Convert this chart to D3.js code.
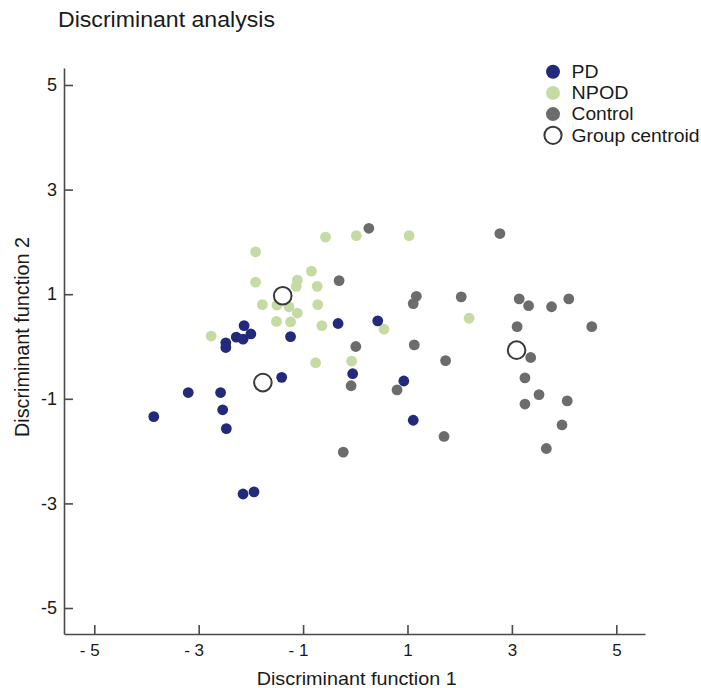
<!DOCTYPE html>
<html>
<head>
<meta charset="utf-8">
<script src="https://cdn.jsdelivr.net/npm/d3@7"></script>
<style>
  body { margin: 0; background: #fff; }
  text { font-family: "Liberation Sans", Arial, Helvetica, sans-serif; fill: #1a1a1a; }
</style>
</head>
<body>
<svg id="chart" width="701" height="688"></svg>
<script>
// Discriminant scores per group (function 1, function 2)
const pdX = [-2.13, -2.28, -2.15, -2.00, -2.48, -2.48, -1.24, -1.41, -3.20, -2.58,
             -3.86, -2.54, -2.47, -2.15, -1.94, -0.33, 0.43, -0.05, 0.93, 1.11];
const pdY = [0.40, 0.18, 0.14, 0.24, 0.07, -0.02, 0.19, -0.59, -0.88, -0.88,
             -1.34, -1.21, -1.57, -2.82, -2.78, 0.44, 0.49, -0.52, -0.66, -1.41];

const npodX = [-1.91, -0.84, -1.91, -1.11, -1.13, -0.73, -1.78, -1.50, -1.27, -1.11, -0.72,
               -1.51, -1.24, -0.64, -2.76, -0.76, -0.57, 0.02, 1.03, 2.18, 0.55, -0.07];
const npodY = [1.81, 1.44, 1.23, 1.27, 1.15, 1.15, 0.80, 0.79, 0.76, 0.64, 0.80,
               0.48, 0.47, 0.40, 0.20, -0.31, 2.09, 2.12, 2.12, 0.54, 0.33, -0.28];

const controlX = [0.26, 2.77, -0.31, 1.17, 1.11, 2.03, 0.01, 1.13, 1.73, -0.08, 0.80, 1.70, -0.23,
                  3.14, 3.32, 3.76, 4.09, 3.10, 4.53, 3.36, 3.25, 3.52, 3.25, 4.06, 3.96, 3.66];
const controlY = [2.26, 2.16, 1.26, 0.96, 0.82, 0.95, 0.00, 0.03, -0.27, -0.75, -0.83, -1.72, -2.02,
                  0.91, 0.78, 0.76, 0.91, 0.38, 0.38, -0.21, -0.60, -0.92, -1.10, -1.04, -1.50, -1.95];

// Group centroids: PD, NPOD, Control
const centroidX = [-1.77, -1.39, 3.09];
const centroidY = [-0.69, 0.97, -0.07];

const xTickValues = [-5, -3, -1, 1, 3, 5];
const xTickLabels = ["- 5", "- 3", "- 1", "1", "3", "5"];
const yTickValues = [5, 3, 1, -1, -3, -5];
const yTickLabels = ["5", "3", "1", "-1", "-3", "-5"];

const legendLabels = ["PD", "NPOD", "Control", "Group centroid"];

const colors = { PD: "#232a7b", NPOD: "#c6dba4", Control: "#6c6c6c" };
const axisColor = "#4a4a4a";

const svg = d3.select("#chart");

const x = d3.scaleLinear().domain([-5.58, 5.55]).range([64, 645]);
const y = d3.scaleLinear().domain([-5.497, 5.325]).range([634, 68]);

// Title
svg.append("text")
  .attr("x", 58).attr("y", 27)
  .attr("font-size", 22)
  .attr("textLength", 217).attr("lengthAdjust", "spacingAndGlyphs")
  .text("Discriminant analysis");

// Axes
const xAxis = d3.axisBottom(x)
  .tickValues(xTickValues)
  .tickFormat((d, i) => xTickLabels[i])
  .tickSizeInner(-9).tickSizeOuter(0).tickPadding(10);
const gx = svg.append("g").attr("transform", "translate(0,634)").call(xAxis);
gx.selectAll("text")
  .attr("font-size", 17)
  .attr("text-anchor", "end")
  .attr("x", 4.8)
  .attr("fill", "#1a1a1a");

const yAxis = d3.axisLeft(y)
  .tickValues(yTickValues)
  .tickFormat((d, i) => yTickLabels[i])
  .tickSizeInner(-9).tickSizeOuter(0).tickPadding(7);
const gy = svg.append("g").attr("transform", "translate(64,0)").call(yAxis);
gy.selectAll("text").attr("font-size", 18).attr("fill", "#1a1a1a");

[gx, gy].forEach(g => {
  g.select(".domain").attr("stroke", axisColor).attr("stroke-width", 1.6);
  g.selectAll(".tick line").attr("stroke", axisColor).attr("stroke-width", 1.6);
  g.attr("font-family", null);
});

// Axis titles
svg.append("text")
  .attr("x", 356.7).attr("y", 685)
  .attr("text-anchor", "middle")
  .attr("font-size", 19)
  .attr("textLength", 200).attr("lengthAdjust", "spacingAndGlyphs")
  .text("Discriminant function 1");

svg.append("text")
  .attr("transform", "translate(29,337) rotate(-90)")
  .attr("text-anchor", "middle")
  .attr("font-size", 19.5)
  .attr("textLength", 200).attr("lengthAdjust", "spacingAndGlyphs")
  .text("Discriminant function 2");

// Points
const plot = svg.append("g");
function drawGroup(xs, ys, color) {
  plot.append("g").selectAll("circle")
    .data(xs.map((v, i) => [v, ys[i]]))
    .join("circle")
    .attr("cx", d => x(d[0]))
    .attr("cy", d => y(d[1]))
    .attr("r", 5.4)
    .attr("fill", color);
}
drawGroup(controlX, controlY, colors.Control);
drawGroup(npodX, npodY, colors.NPOD);
drawGroup(pdX, pdY, colors.PD);

plot.append("g").selectAll("circle")
  .data(centroidX.map((v, i) => [v, centroidY[i]]))
  .join("circle")
  .attr("cx", d => x(d[0]))
  .attr("cy", d => y(d[1]))
  .attr("r", 8.8)
  .attr("fill", "#fff")
  .attr("stroke", "#3a3a3a")
  .attr("stroke-width", 2);

// Legend
const legendFill = [colors.PD, colors.NPOD, colors.Control, "#fff"];
const legendWidths = [27, 57, 62, 128];
const legend = svg.append("g");
legendLabels.forEach((lab, i) => {
  const cy = 71.7 + i * 21.2;
  const isCentroid = i === 3;
  legend.append("circle")
    .attr("cx", 553).attr("cy", cy)
    .attr("r", isCentroid ? 8.6 : 7)
    .attr("fill", legendFill[i])
    .attr("stroke", isCentroid ? "#3a3a3a" : "none")
    .attr("stroke-width", 2);
  legend.append("text")
    .attr("x", 571.5).attr("y", cy + 6.3)
    .attr("font-size", 18)
    .attr("textLength", legendWidths[i]).attr("lengthAdjust", "spacingAndGlyphs")
    .text(lab);
});
</script>
</body>
</html>
